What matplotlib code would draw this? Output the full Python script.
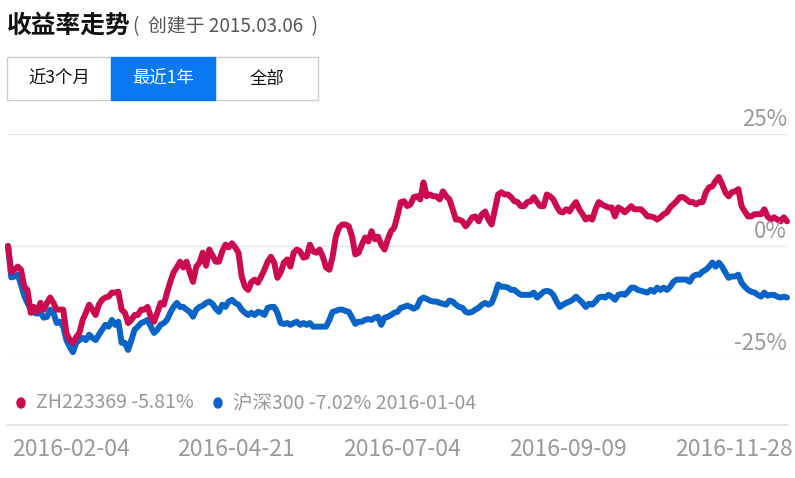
import numpy as np
import matplotlib
matplotlib.use("Agg")
import matplotlib.pyplot as plt
from matplotlib.patches import Rectangle, Ellipse

plt.rcParams['font.family'] = ['Noto Sans CJK SC', 'DejaVu Sans']

# ---------------- data (percent returns) ----------------
zh223369 = [
    0.0, -5.8, -5.3, -4.6, -5.3, -9.1, -9.8, -14.9, -13.6, -14.7,
    -12.7, -14.2, -12.7, -11.5, -12.7, -14.2, -14.2, -14.2, -19.4, -21.0,
    -21.6, -20.3, -19.4, -16.5, -14.9, -13.1, -14.2, -15.4, -13.1, -12.0,
    -11.5, -11.3, -10.4, -10.4, -10.2, -14.2, -14.9, -17.2, -16.5, -15.4,
    -15.4, -14.2, -14.2, -13.6, -15.8, -16.9, -14.9, -12.7, -13.1, -10.4,
    -8.0, -5.9, -4.8, -3.5, -4.8, -3.5, -5.9, -8.0, -4.6, -3.7,
    -1.5, -4.4, -0.8, -2.1, -3.5, -3.5, -1.2, 0.3, -0.3, 0.6,
    -0.3, -1.5, -6.8, -9.1, -9.8, -8.0, -7.5, -8.2, -6.8, -5.3,
    -3.5, -2.4, -3.7, -7.1, -5.9, -3.7, -3.0, -4.6, -1.5, -0.8,
    -1.2, -2.6, -2.4, 0.3, -1.2, -1.5, -0.8, -2.4, -4.8, -5.3,
    -2.4, 2.1, 4.1, 4.8, 4.8, 4.4, 2.1, -1.9, -1.5, 0.3,
    1.9, 1.0, 3.3, 1.5, 2.1, 0.3, -0.8, 1.5, 3.3, 4.1, 6.8,
    9.8, 10.0, 8.9, 9.3, 10.9, 11.1, 10.4, 14.2, 11.1, 11.5,
    11.1, 11.1, 10.4, 12.2, 11.1, 10.4, 8.2, 5.9, 5.9, 5.5,
    4.4, 5.3, 6.4, 6.6, 5.5, 7.1, 7.7, 5.9, 4.8, 8.2,
    11.5, 12.0, 11.5, 11.5, 10.9, 10.0, 9.8, 8.9, 8.9, 9.8,
    10.0, 10.9, 9.8, 8.9, 8.9, 11.5, 11.1, 10.4, 8.9, 7.7,
    7.5, 8.2, 7.7, 8.9, 9.8, 8.2, 7.1, 5.9, 6.4,
    5.9, 8.2, 9.8, 9.3, 8.9, 8.6, 8.6, 6.6, 8.6, 8.2,
    7.5, 8.2, 8.9, 8.2, 8.2, 8.2, 7.5, 6.6, 6.6, 6.4,
    5.9, 6.4, 7.1, 7.5, 8.6, 9.3, 10.0, 10.9, 10.9, 10.4,
    9.8, 9.8, 9.3, 9.8, 9.8, 12.0, 13.1, 13.3, 14.5, 15.4,
    13.8, 12.0, 11.1, 12.0, 12.2, 12.7, 8.9, 7.7, 6.6, 6.6,
    7.1, 7.1, 7.1, 8.2, 6.6, 5.9, 6.4, 5.9, 5.5, 6.4, 5.5,
]
hs300 = [
    0.0, -7.0, -6.8, -6.4, -8.6, -11.1, -12.7, -14.2, -14.9, -15.1,
    -14.9, -16.0, -15.8, -14.2, -14.9, -17.2, -16.9, -18.0, -21.0, -22.5,
    -23.7, -21.6, -21.0, -20.5, -21.0, -19.8, -20.5, -21.0, -19.8, -18.7,
    -17.6, -18.0, -16.5, -17.6, -16.9, -21.6, -21.6, -23.2, -21.0, -18.7,
    -18.0, -17.2, -16.9, -16.5, -18.0, -19.4, -18.7, -17.6, -17.2, -16.5,
    -14.9, -13.6, -12.7, -13.6, -13.6, -14.2, -14.7, -15.8, -14.2, -13.6,
    -13.3, -12.7, -12.4, -12.9, -14.0, -14.7, -13.1, -13.6, -12.4, -12.0,
    -12.7, -13.1, -14.2, -14.9, -15.4, -14.9, -15.4, -14.7, -14.9, -15.4,
    -13.8, -13.6, -13.6, -14.9, -17.2, -17.4, -17.2, -17.6, -17.2, -16.9,
    -17.6, -17.2, -17.6, -17.2, -18.0, -18.0, -18.0, -18.0, -18.0, -16.5,
    -14.7, -14.5, -14.2, -14.2, -14.5, -14.7, -16.0, -17.4, -16.9, -16.9,
    -16.5, -16.3, -16.5, -16.0, -15.8, -17.6, -16.0, -15.8, -15.4, -14.9, -14.7,
    -13.8, -13.6, -13.3, -13.6, -14.0, -13.6, -12.0, -11.5, -11.8, -12.2,
    -12.4, -12.4, -12.7, -12.9, -13.1, -12.2, -12.4, -13.1, -13.6, -13.8,
    -14.7, -14.9, -14.7, -14.2, -13.8, -13.1, -12.7, -13.1, -12.7, -10.9,
    -8.6, -9.1, -9.1, -9.3, -9.8, -9.8, -10.4, -10.9, -10.9, -10.9,
    -10.9, -10.4, -11.5, -10.9, -10.2, -10.0, -10.2, -10.9, -12.4, -13.6,
    -13.1, -12.7, -12.4, -12.0, -11.3, -12.0, -12.7, -13.6, -12.9,
    -13.1, -12.4, -11.5, -11.3, -11.5, -10.9, -11.3, -12.0, -10.9, -10.7,
    -10.9, -10.2, -9.3, -9.3, -9.8, -10.0, -10.2, -10.4, -9.8, -10.2,
    -9.3, -9.8, -9.3, -9.8, -9.1, -8.0, -7.5, -7.5, -7.5, -7.5,
    -8.0, -6.8, -6.4, -6.4, -5.7, -5.3, -4.6, -3.7, -4.6, -3.7,
    -4.6, -5.9, -7.1, -6.8, -6.8, -6.4, -8.2, -9.1, -9.8, -10.2,
    -10.4, -10.9, -11.3, -10.4, -11.1, -10.9, -10.9, -11.3, -11.5, -11.3, -11.5,
]
date_labels = ["2016-02-04", "2016-04-21", "2016-07-04", "2016-09-09", "2016-11-28"]
y_ticks = [25, 0, -25]
y_tick_labels = ["25%", "0%", "-25%"]
legend_items = [("ZH223369 -5.81%", "#cc0a50"), ("沪深300 -7.02% 2016-01-04", "#0a64c8")]
buttons = ["近3个月", "最近1年", "全部"]

RED = "#cc0a50"
BLUE = "#0a64c8"
W, H = 795, 478

fig = plt.figure(figsize=(W / 100, H / 100), dpi=100)

def fx(px):
    return px / W

def fy(py):
    return 1 - py / H

# ---------------- main plot axes ----------------
ax = fig.add_axes([fx(8), fy(358), fx(787) - fx(8), fy(134) - fy(358)])
n = len(zh223369)
x = np.arange(n)
ax.set_xlim(0, n - 1)
ax.set_ylim(-25, 25)
for yv in y_ticks:
    ax.axhline(yv, color="#e6e6e6", lw=1.0, zorder=0)
ax.plot(x, hs300, color=BLUE, lw=4.3, solid_joinstyle="round", solid_capstyle="round", zorder=2, clip_on=False)
ax.plot(x, zh223369, color=RED, lw=4.3, solid_joinstyle="round", solid_capstyle="round", zorder=3, clip_on=False)
ax.axis("off")

# y labels on right, above gridlines
for yv, lab in zip(y_ticks, y_tick_labels):
    ax.annotate(lab, xy=(1, yv), xycoords=("axes fraction", "data"),
                xytext=(0, 2.5), textcoords="offset points",
                ha="right", va="bottom", fontsize=16, color="#999999")

# ---------------- x axis line and labels ----------------
fig.add_artist(plt.Line2D([fx(7), fx(787)], [fy(425), fy(425)], color="#dddddd", lw=1.2))
tick_px = [71, 236, 402, 568, 734]
for px, lab in zip(tick_px, date_labels):
    fig.text(fx(px), fy(449), lab, ha="center", va="center", fontsize=16.5, color="#999999")

# ---------------- legend ----------------
leg_dot_px = [21, 218]
leg_txt_px = [36, 233]
for (lab, col), dpx, tpx in zip(legend_items, leg_dot_px, leg_txt_px):
    fig.add_artist(Ellipse((fx(dpx), fy(403)), 8 / W, 10 / H, color=col, transform=fig.transFigure))
    fig.text(fx(tpx), fy(403), lab, ha="left", va="center", fontsize=14, color="#999999")

# ---------------- title ----------------
fig.text(fx(7), fy(26), "收益率走势", ha="left", va="center", fontsize=17.8,
         fontweight="bold", color="#111111")
fig.text(fx(133), fy(27), "(  创建于 2015.03.06  )", ha="left", va="center", fontsize=13.6,
         color="#555555")

# ---------------- buttons ----------------
bx = [7, 111, 215, 318]
for i, lab in enumerate(buttons):
    active = (i == 1)
    rect = Rectangle((fx(bx[i]), fy(100)), fx(bx[i + 1]) - fx(bx[i]), fy(57) - fy(100),
                     transform=fig.transFigure,
                     facecolor="#0a78f0" if active else "white",
                     edgecolor="#0a78f0" if active else "#cccccc", lw=1.0, zorder=1 if not active else 2)
    fig.add_artist(rect)
    fig.text(fx((bx[i] + bx[i + 1]) / 2), fy(79), lab, ha="center", va="center",
             fontsize=12.5, color="white" if active else "#111111", zorder=3)

fig.savefig("out.png", dpi=100)
